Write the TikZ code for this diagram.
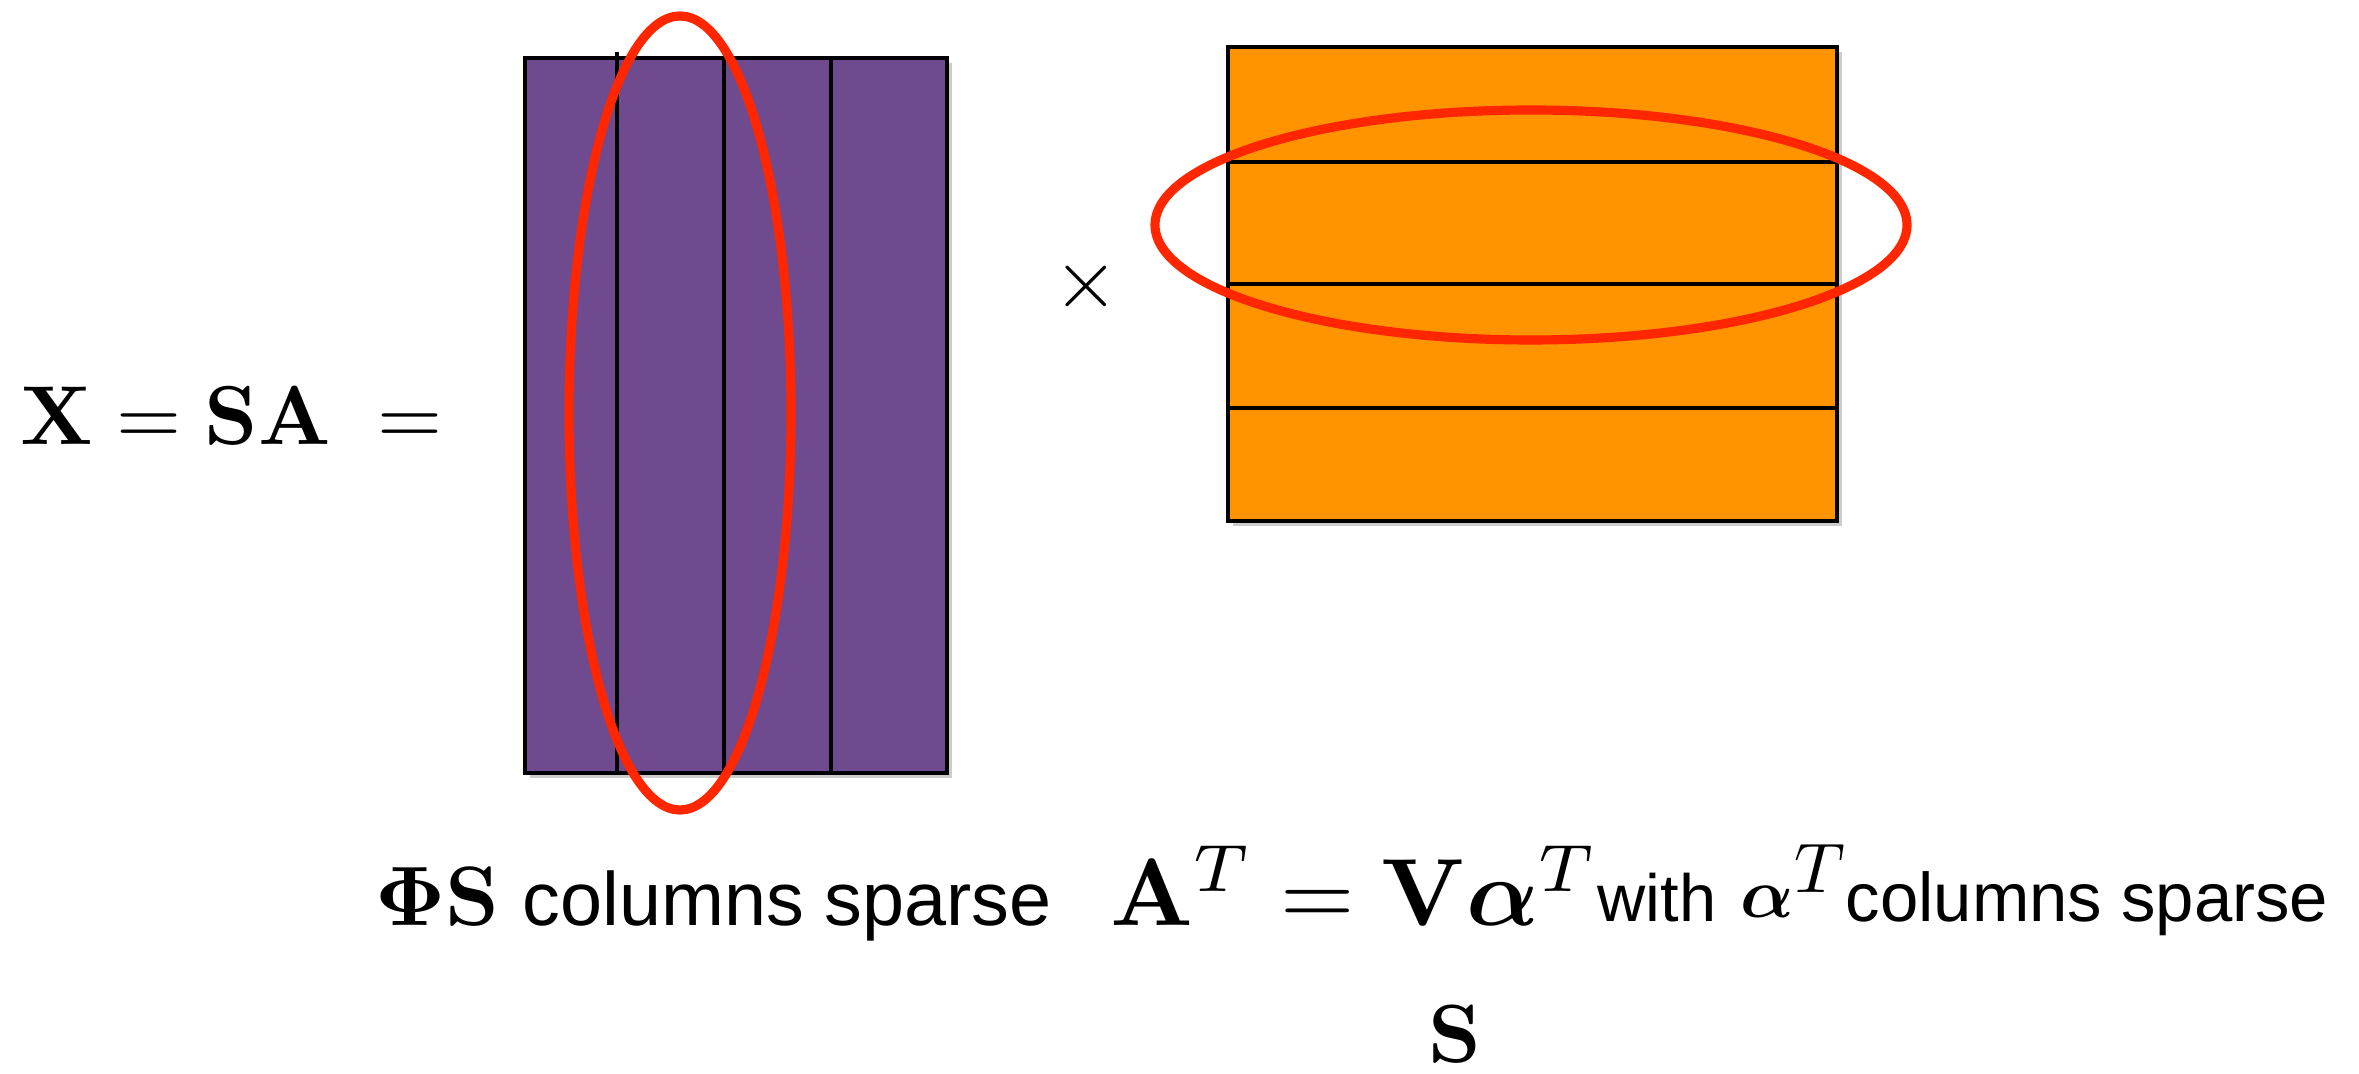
\documentclass[tikz,border=0pt]{standalone}
\usepackage{amsmath,bm,graphicx}
\usepackage[no-math]{fontspec}
\newfontfamily\helv{Liberation Sans}
\usetikzlibrary{shadows}
\definecolor{SPurple}{RGB}{111,74,142}
\definecolor{AOrange}{RGB}{255,148,0}
\definecolor{RingRed}{RGB}{255,38,0}
\newcommand{\mth}[2]{\scalebox{#1}{$#2$}}

\begin{document}
\begin{tikzpicture}[x=0.1mm,y=-0.1mm, every node/.style={inner sep=0pt,anchor=base west}, mat/.style={draw=black,line width=1.4pt,drop shadow={shadow xshift=0.5mm,shadow yshift=-0.5mm,opacity=0.2,fill=black}}, sep/.style={draw=black,line width=1.1pt}, ring/.style={draw=RingRed,line width=2.6pt}, txt/.style={font=\fontsize{21.5}{25}\selectfont\helv}]
\useasboundingbox (0,0) rectangle (2359,1074);
% S matrix, four columns
\path[mat,fill=SPurple] (525,58) rectangle (947,773);
\foreach \xc in {724,831} \draw[sep] (\xc,58) -- (\xc,773);
\draw[sep] (617,52) -- (617,773);
\draw[ring] (680,413) ellipse [x radius=111, y radius=397];
% A matrix, four rows
\path[mat,fill=AOrange] (1228,47) rectangle (1837,521);
\foreach \yr in {162,284,408} \draw[sep] (1228,\yr) -- (1837,\yr);
\draw[ring] (1531,225) ellipse [x radius=376, y radius=115];
% labels
\node (lhs) at (20,445) {\mth{2.38}{\mathbf{X}=\mathbf{SA}\;=}};
\node[anchor=center] (times) at (1086,286) {\mth{2.4}{\times}};
\node (phis) at (375,926) {\mth{2.4}{\mathbf{\Phi S}}};
\node[txt] (colsS) at (522,926) {columns sparse};
\node (avt) at (1110,926) {\mth{2.72}{\mathbf{A}^T=\mathbf{V}\bm{\alpha}^T}};
\node[txt,font=\fontsize{19}{22}\selectfont\helv] (with) at (1597,922) {with};
\node (alpha) at (1740,918) {\mth{2.0}{\bm{\alpha}^{\textstyle T}}};
\node[txt,font=\fontsize{19.6}{22}\selectfont\helv] (colsA) at (1845,922) {columns sparse};
\node[anchor=base] (sbot) at (1455,1062) {\mth{2.35}{\mathbf{S}}};
\end{tikzpicture}
\end{document}
